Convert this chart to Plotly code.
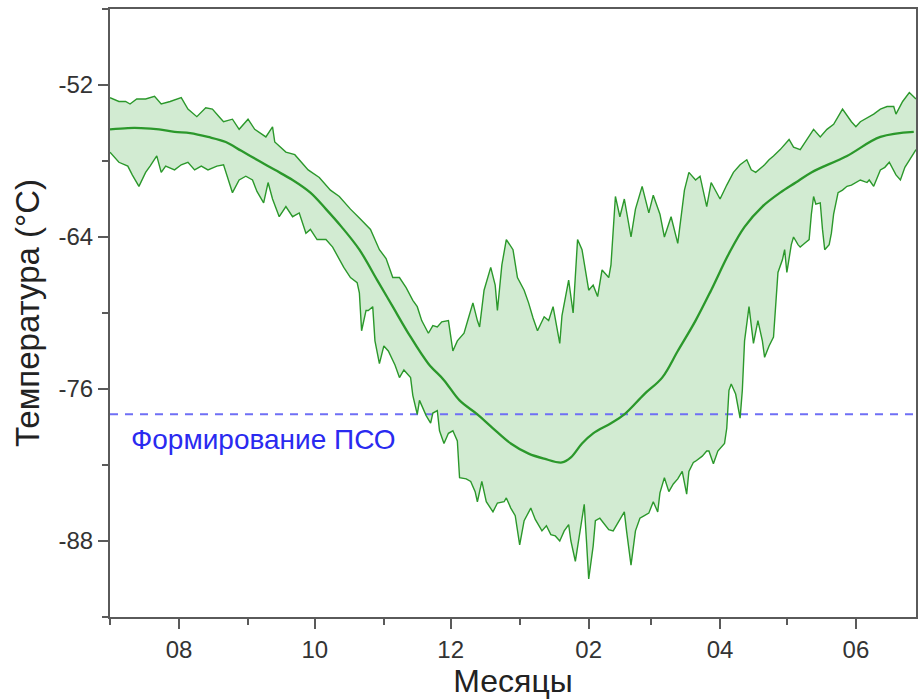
import pandas as pd
import plotly.graph_objects as go

# Season start; all sample positions are days counted from this date
SEASON_START = "2018-07-01"
X_END = "2019-06-28"

# Upper envelope (daily maximum of the ensemble), °C
upper_day = [0, 4, 7, 9, 12, 16, 20, 23, 27, 32, 35, 39, 43, 46, 49, 51, 55, 58, 62, 65,
             70, 73, 74, 79, 83, 86, 89, 94, 99, 103, 108, 112, 117, 121, 124, 127, 130, 133, 136, 138,
             140, 143, 145, 147, 149, 152, 154, 156, 159, 161, 163, 165, 166, 168, 171, 173, 174, 176, 178, 181,
             183, 186, 188, 190, 192, 195, 197, 199, 202, 203, 206, 208, 210, 212, 215, 217, 219, 221, 224, 225,
             227, 229, 231, 234, 236, 239, 242, 244, 247, 249, 252, 255, 258, 260, 263, 265, 268, 270, 274, 277,
             280, 283, 286, 288, 290, 294, 296, 298, 301, 305, 307, 310, 313, 316, 319, 322, 325, 329, 333, 335,
             337, 341, 343, 346, 349, 352, 353, 356, 359, 362]
upper_val = [-53.0, -53.3, -53.3, -53.5, -53.1, -53.1, -52.9, -53.5, -53.3, -53.0, -53.9, -54.5, -53.8, -53.9, -54.5, -54.9, -54.7, -55.5, -54.7, -55.5,
             -56.1, -55.3, -56.5, -57.3, -57.5, -58.1, -58.7, -59.3, -60.3, -60.8, -61.8, -62.5, -63.4, -65.0, -65.7, -67.2, -67.2, -68.0, -69.0, -69.5,
             -70.6, -71.6, -71.0, -71.1, -70.7, -70.6, -73.0, -72.2, -71.6, -70.4, -69.2, -70.6, -71.1, -68.2, -66.4, -67.8, -69.8, -66.2, -64.2, -65.0,
             -67.2, -68.2, -69.2, -70.4, -71.4, -70.3, -70.6, -69.5, -72.4, -70.2, -67.4, -70.0, -64.2, -65.0, -68.2, -67.8, -68.7, -66.6, -67.2, -66.2,
             -60.8, -62.4, -61.0, -64.0, -61.8, -60.0, -62.1, -60.7, -62.2, -64.0, -62.4, -64.5, -60.3, -58.9, -59.5, -59.2, -61.6, -59.7, -61.0, -59.9,
             -58.9, -58.3, -57.9, -58.7, -58.9, -58.3, -57.9, -57.6, -57.1, -56.3, -56.9, -57.1, -56.3, -55.5, -56.1, -55.5, -55.1, -53.9, -54.9, -55.3,
             -54.9, -54.5, -54.3, -53.9, -53.7, -53.7, -54.3, -53.3, -52.6, -53.1]

# Lower envelope (daily minimum of the ensemble), °C
lower_day = [0, 4, 8, 10, 13, 16, 18, 21, 23, 25, 29, 32, 35, 38, 41, 44, 48, 51, 55, 58,
             61, 64, 66, 69, 71, 73, 76, 79, 82, 85, 88, 90, 93, 97, 100, 103, 105, 108, 111, 112,
             113, 115, 116, 118, 119, 121, 123, 125, 128, 130, 132, 135, 136, 138, 139, 142, 144, 145, 147, 148,
             150, 152, 154, 156, 157, 160, 162, 164, 165, 167, 169, 172, 174, 177, 178, 180, 182, 184, 186, 189,
             191, 194, 196, 198, 200, 202, 204, 206, 207, 209, 211, 213, 214, 215, 217, 218, 220, 222, 224, 226,
             229, 231, 232, 234, 236, 238, 240, 242, 244, 246, 247, 249, 251, 253, 255, 257, 259, 260, 262, 263,
             266, 268, 269, 271, 273, 276, 277, 278, 279, 281, 283, 284, 285, 286, 287, 289, 290, 291, 293, 294,
             296, 298, 300, 302, 303, 304, 306, 307, 309, 310, 312, 314, 315, 316, 317, 319, 320, 321, 323, 324,
             325, 327, 329, 331, 333, 335, 337, 340, 341, 343, 345, 346, 348, 350, 353, 355, 357, 359, 362]
lower_val = [-57.3, -58.1, -58.4, -59.1, -60.0, -58.9, -58.4, -57.6, -58.9, -58.4, -58.7, -58.3, -58.1, -58.7, -58.4, -58.7, -58.4, -58.3, -60.5, -59.5,
             -59.2, -59.5, -60.4, -61.3, -59.7, -61.0, -62.4, -61.6, -62.4, -62.1, -63.7, -63.4, -64.2, -64.2, -64.8, -65.8, -66.4, -67.2, -67.6, -68.4,
             -71.4, -69.8, -69.8, -69.5, -72.2, -74.0, -72.6, -73.0, -74.1, -75.1, -74.5, -75.1, -76.5, -78.0, -76.9, -78.1, -78.7, -77.9, -77.7, -79.3,
             -80.3, -79.5, -79.3, -80.1, -83.0, -83.1, -83.3, -84.1, -84.9, -83.3, -84.9, -85.7, -85.0, -84.9, -84.6, -85.4, -86.0, -88.3, -86.4, -85.4,
             -86.3, -87.2, -86.8, -87.5, -87.6, -88.0, -87.2, -86.7, -88.0, -89.6, -87.2, -85.1, -88.0, -91.0, -88.4, -86.4, -86.2, -86.7, -87.1, -87.2,
             -86.3, -85.7, -87.2, -89.9, -87.2, -86.2, -86.0, -85.8, -84.9, -85.7, -84.2, -83.0, -84.1, -83.5, -83.1, -82.5, -84.3, -82.5, -81.8, -81.7,
             -81.3, -80.9, -80.9, -81.9, -80.9, -80.3, -79.1, -76.1, -75.6, -76.4, -78.3, -76.1, -72.2, -70.6, -69.5, -72.4, -71.4, -70.6, -72.2, -73.5,
             -72.6, -71.9, -66.8, -65.8, -65.0, -66.8, -64.6, -64.0, -64.6, -64.8, -64.5, -64.2, -62.2, -60.8, -61.4, -61.3, -63.4, -65.0, -64.6, -63.7,
             -62.2, -60.5, -60.3, -60.0, -59.9, -59.7, -59.5, -59.7, -59.5, -60.0, -59.1, -58.7, -58.5, -58.1, -59.1, -59.5, -58.5, -57.9, -57.1]

# Ensemble mean, °C
mean_day = [0, 8, 14, 22, 29, 36, 44, 52, 59, 67, 74, 82, 90, 97, 104, 112, 120, 127, 134, 143,
            150, 157, 165, 172, 180, 188, 195, 203, 207, 212, 217, 225, 231, 240, 248, 255, 263, 270, 278, 285,
            293, 301, 308, 315, 331, 346, 361]
mean_val = [-55.5, -55.4, -55.4, -55.5, -55.7, -55.8, -56.1, -56.5, -57.2, -58.0, -58.7, -59.5, -60.5, -61.8, -63.2, -65.0, -67.4, -69.5, -71.6, -74.0,
            -75.3, -76.9, -78.0, -79.1, -80.3, -81.1, -81.5, -81.8, -81.4, -80.3, -79.5, -78.7, -78.0, -76.4, -75.1, -73.0, -70.6, -68.2, -65.3, -63.2,
            -61.6, -60.5, -59.7, -58.9, -57.6, -56.1, -55.7]

# PSC formation threshold, °C
psc_threshold = -78.0
psc_label = "Формирование ПСО"

y_ticks = [-88, -76, -64, -52]
y_tick_text = ["-88", "-76", "-64", "-52"]

start = pd.Timestamp(SEASON_START)


def to_dates(days):
    return [start + pd.Timedelta(days=d) for d in days]


up_x, lo_x, mn_x = to_dates(upper_day), to_dates(lower_day), to_dates(mean_day)

GREEN = "#2b982b"
FILL = "#d2ebd2"
FONT = "Arial, Liberation Sans, sans-serif"

fig = go.Figure()

# shaded band between the envelopes
fig.add_trace(go.Scatter(
    x=up_x + lo_x[::-1], y=upper_val + lower_val[::-1],
    fill="toself", fillcolor=FILL, mode="lines", line=dict(width=0),
    hoverinfo="skip", showlegend=False))

# PSC threshold
fig.add_trace(go.Scatter(
    x=[pd.Timestamp(SEASON_START), pd.Timestamp(X_END)], y=[psc_threshold, psc_threshold],
    mode="lines", line=dict(color="#6f6ff5", width=2, dash="8px,7px"),
    hoverinfo="skip", showlegend=False))

for xs, ys, w, shape in [(up_x, upper_val, 1.4, "linear"),
                         (lo_x, lower_val, 1.4, "linear"),
                         (mn_x, mean_val, 2.3, "spline")]:
    fig.add_trace(go.Scatter(x=xs, y=ys, mode="lines",
                             line=dict(color=GREEN, width=w, shape=shape),
                             hoverinfo="skip", showlegend=False))

fig.add_annotation(
    x=0.024, xref="paper", xanchor="left",
    y=psc_threshold - 2, yref="y", yanchor="middle",
    text=psc_label, showarrow=False,
    font=dict(family=FONT, size=28, color="#2a2af0"))

axis_common = dict(
    showline=True, linecolor="#5a5a5a", linewidth=2, mirror=True,
    showgrid=False, zeroline=False,
    ticks="outside", ticklen=10, tickwidth=2, tickcolor="#5a5a5a",
    tickfont=dict(family=FONT, size=24, color="#333333"),
)

fig.update_xaxes(
    **axis_common,
    type="date",
    range=[SEASON_START, X_END],
    tick0="2018-08-01", dtick="M2", tickformat="%m",
    minor=dict(ticks="outside", ticklen=6, tickwidth=2, tickcolor="#5a5a5a",
               dtick="M1", tick0="2018-07-01"),
    title=dict(text="Месяцы", font=dict(family=FONT, size=32, color="#222222"), standoff=5),
)
fig.update_yaxes(
    **axis_common,
    range=[-94, -46],
    tickvals=y_ticks, ticktext=y_tick_text,
    minor=dict(ticks="outside", ticklen=6, tickwidth=2, tickcolor="#5a5a5a",
               tick0=-52, dtick=6),
    title=dict(text="Температура (°C)", font=dict(family=FONT, size=33, color="#222222"), standoff=9),
)

fig.update_layout(
    width=918, height=699,
    margin=dict(l=110, r=0, t=9, b=82),
    plot_bgcolor="white", paper_bgcolor="white",
    showlegend=False,
)

fig.write_html("out.html")
